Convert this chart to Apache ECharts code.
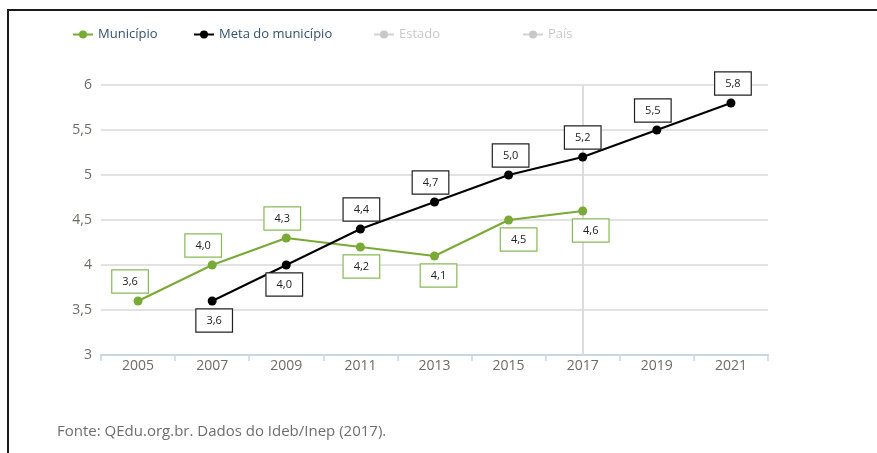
<!DOCTYPE html>
<html>
<head>
<meta charset="utf-8">
<script src="https://cdn.jsdelivr.net/npm/echarts@6/dist/echarts.min.js"></script>
<style>
  html, body { margin: 0; padding: 0; background: #fff; }
  #chart { width: 877px; height: 453px; }
</style>
</head>
<body>
<div id="chart"></div>
<script>
// dados do gráfico
const anos = ['2005', '2007', '2009', '2011', '2013', '2015', '2017', '2019', '2021']
const municipio = [3.6, 4.0, 4.3, 4.2, 4.1, 4.5, 4.6, null, null]
const meta = [null, 3.6, 4.0, 4.4, 4.7, 5.0, 5.2, 5.5, 5.8]
const yTicks = [3, 3.5, 4, 4.5, 5, 5.5, 6]

// lado do rótulo de cada ponto (acima / abaixo) e pequeno deslocamento horizontal
const ladoMunicipio = ['top', 'top', 'top', 'bottom', 'bottom', 'bottom', 'bottom']
const dxMunicipio = [-8, -9, -4, 1, 4, 10, 8]
const ladoMeta = [null, 'bottom', 'bottom', 'top', 'top', 'top', 'top', 'top', 'top']
const dxMeta = [0, 2, -2, 1, -4, 2, 0, -4, 2]

const verde = '#79aa36'
const preto = '#000000'
const virgula = v => String(v.toFixed ? v.toFixed(1) : v).replace('.', ',')

function pontos(valores, lados, dx, cor) {
  return valores.map((v, i) => {
    if (v == null) return null
    return {
      value: v,
      label: {
        show: true,
        position: lados[i],
        distance: 4,
        offset: [dx[i], 0],
        formatter: p => virgula(p.value),
        fontFamily: 'Open Sans',
        fontSize: 11,
        lineHeight: 13,
        color: '#222',
        backgroundColor: '#fff',
        borderColor: cor,
        borderWidth: 1.2,
        padding: [5, 10, 4, 10]
      }
    }
  })
}

const chart = echarts.init(document.getElementById('chart'))

const legendaBase = {
  top: 28,
  padding: 0,
  itemWidth: 20,
  itemHeight: 10,
  itemGap: 0,
  textStyle: { fontFamily: 'Open Sans', fontSize: 13, color: '#34506f' },
  inactiveColor: '#c8c8c8'
}

chart.setOption({
  animation: false,
  grid: { left: 101, right: 109, top: 85, bottom: 98 },
  legend: [
    Object.assign({}, legendaBase, { left: 72, data: ['Município'] }),
    Object.assign({}, legendaBase, { left: 193, data: ['Meta do município'] }),
    Object.assign({}, legendaBase, { left: 373, data: ['Estado'] }),
    Object.assign({}, legendaBase, { left: 522, data: ['País'] })
  ],
  xAxis: {
    type: 'category',
    data: anos,
    boundaryGap: true,
    axisLine: { lineStyle: { color: '#c9d5e3', width: 2 } },
    axisTick: { show: true, length: 6, lineStyle: { color: '#c9d5e3', width: 1.5 } },
    axisLabel: { fontFamily: 'Open Sans', fontSize: 14, color: '#6f6a66', margin: 4 },
    splitLine: { show: false }
  },
  yAxis: {
    type: 'value',
    min: 3,
    max: 6,
    interval: 0.5,
    axisLine: { show: false },
    axisTick: { show: false },
    axisLabel: {
      fontFamily: 'Open Sans',
      fontSize: 14,
      color: '#6f6a66',
      margin: 9,
      formatter: v => String(v).replace('.', ',')
    },
    splitLine: { lineStyle: { color: '#d9d9d9', width: 1.5 } }
  },
  series: [
    {
      // linha vertical em 2017, atrás de tudo
      type: 'line',
      data: [],
      z: 1,
      silent: true,
      markLine: {
        z: 1,
        silent: true,
        symbol: 'none',
        label: { show: false },
        lineStyle: { color: '#dcdcdc', width: 2, type: 'solid' },
        data: [{ xAxis: '2017' }]
      }
    },
    {
      name: 'Município',
      type: 'line',
      data: pontos(municipio, ladoMunicipio, dxMunicipio, '#86bb55'),
      color: verde,
      lineStyle: { width: 2, color: verde },
      symbol: 'circle',
      symbolSize: 9,
      z: 3
    },
    {
      name: 'Meta do município',
      type: 'line',
      data: pontos(meta, ladoMeta, dxMeta, '#222'),
      color: preto,
      lineStyle: { width: 2, color: preto },
      symbol: 'circle',
      symbolSize: 9,
      z: 4
    },
    { name: 'Estado', type: 'line', data: [], color: '#c8c8c8', symbol: 'circle' },
    { name: 'País', type: 'line', data: [], color: '#c8c8c8', symbol: 'circle' }
  ],
  graphic: [
    {
      type: 'polyline',
      shape: { points: [[8, 460], [8, 10], [890, 10]] },
      style: { stroke: '#1a1a1a', lineWidth: 2, fill: null }
    },
    {
      type: 'text',
      left: 57,
      top: 424,
      style: {
        text: 'Fonte: QEdu.org.br. Dados do Ideb/Inep (2017).',
        fontFamily: 'Open Sans',
        fontSize: 15,
        fill: '#6e6e6e'
      }
    }
  ]
})
chart.dispatchAction({ type: 'legendUnSelect', name: 'Estado' })
chart.dispatchAction({ type: 'legendUnSelect', name: 'País' })
</script>
</body>
</html>
